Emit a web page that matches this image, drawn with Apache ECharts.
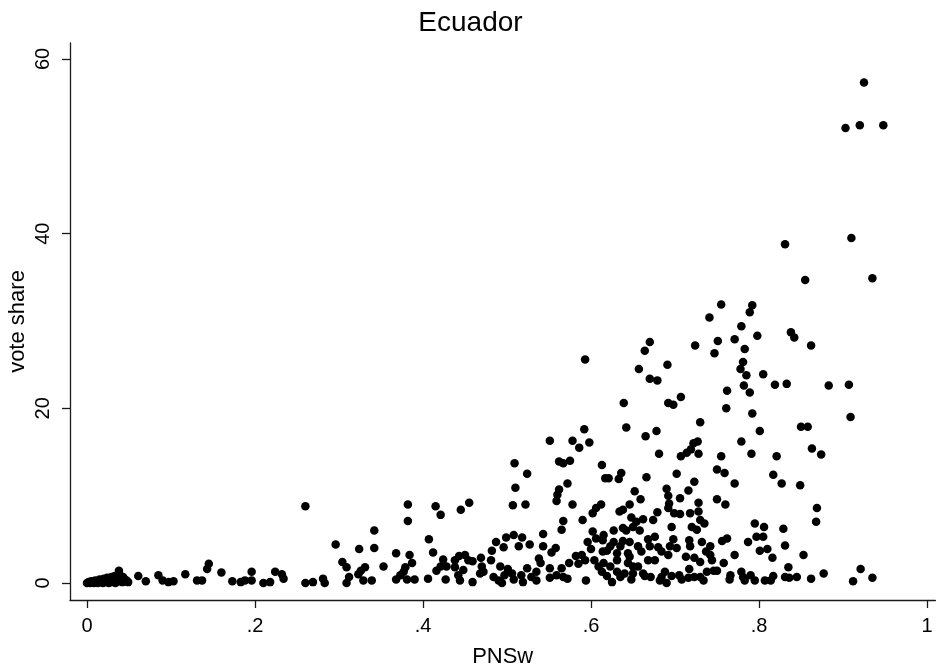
<!DOCTYPE html>
<html>
<head>
<meta charset="utf-8">
<script src="https://cdn.jsdelivr.net/npm/echarts@6/dist/echarts.min.js"></script>
<style>
html,body{margin:0;padding:0;background:#fff;}
#chart{width:941px;height:666px;}
</style>
</head>
<body>
<div id="chart"></div>
<script>
var titleText = "Ecuador";
var xName = "PNSw";
var yName = "vote share";
var xTickValues = [0, 0.2, 0.4, 0.6, 0.8, 1];
var xTickLabels = ["0", ".2", ".4", ".6", ".8", "1"];
var yTickValues = [0, 20, 40, 60];
var yTickLabels = ["0", "20", "40", "60"];

// PNSw values near zero
var clusterX = [0.000,0.002,0.004,0.005,0.007,0.008,0.010,0.011,0.013,0.014,0.015,0.017,0.018,0.019,0.020,0.021,0.022,0.024,0.025,0.026,0.027,0.028,0.029,0.030,0.031,0.032,0.033,0.034,0.035,0.036,0.037,0.038,0.039,0.040,0.041,0.042,0.043,0.044,0.045,0.047,0.049];
var clusterY = [0.0,0.1,0.0,0.2,0.1,0.0,0.3,0.1,0.0,0.2,0.4,0.1,0.3,0.0,0.5,0.2,0.1,0.6,0.3,0.0,0.4,0.2,0.7,0.1,0.5,0.3,0.8,0.0,0.4,0.6,0.2,1.4,0.9,0.3,0.5,0.1,0.7,0.2,0.4,0.3,0.1];

// low PNSw (0.05 - 0.19)
var lowX = [0.061,0.070,0.085,0.090,0.097,0.103,0.117,0.131,0.137,0.145,0.143,0.160,0.173,0.183,0.188];
var lowY = [0.8,0.2,0.9,0.3,0.1,0.2,1.0,0.3,0.3,2.2,1.6,1.2,0.2,0.1,0.3];

// PNSw 0.19 - 0.46
var midX = [0.196,0.196,0.210,0.224,0.232,0.234,0.218,0.260,0.269,0.281,0.283,0.260,0.296,0.304,0.309,0.312,0.309,0.324,0.331,0.326,0.323,0.329,0.339,0.342,0.342,0.353,0.368,0.382,0.382,0.384,0.387,0.379,0.377,0.373,0.368,0.381,0.390,0.407,0.412,0.415,0.421,0.445,0.455,0.424,0.421,0.416,0.428,0.427,0.406,0.443,0.438,0.450,0.454,0.438,0.442,0.444,0.448];
var midY = [1.3,0.3,0.0,1.3,1.0,0.5,0.1,0.0,0.1,0.5,0.0,8.8,4.4,2.4,1.8,0.7,0.0,3.9,1.8,1.4,1.0,0.3,0.3,6.0,4.0,1.9,3.4,9.0,7.1,3.2,2.3,1.8,1.3,0.9,0.4,0.4,0.4,5.0,3.5,8.8,7.8,8.4,9.2,2.7,1.9,1.4,1.9,0.4,0.5,3.1,2.6,3.2,2.6,1.8,0.9,0.3,1.5];

// PNSw 0.46 - 0.61
var groupAX = [0.593,0.592,0.551,0.578,0.598,0.586,0.509,0.524,0.562,0.567,0.575,0.572,0.510,0.562,0.560,0.559,0.578,0.507,0.522,0.606,0.602,0.590,0.567,0.565,0.543,0.602,0.508,0.499,0.487,0.518,0.496,0.514,0.527,0.543,0.558,0.553,0.596,0.600,0.606,0.482,0.469,0.459,0.481,0.470,0.472,0.492,0.501,0.484,0.490,0.494,0.506,0.508,0.517,0.519,0.524,0.535,0.538,0.540,0.551,0.551,0.559,0.565,0.567,0.572,0.574,0.582,0.585,0.589,0.593,0.594,0.604,0.609,0.459,0.468,0.497,0.529,0.535];
var groupAY = [25.6,17.6,16.3,16.3,16.1,15.5,13.7,12.5,13.9,13.7,14.0,11.4,10.9,10.7,10.1,9.4,9.0,8.9,9.0,8.6,8.0,7.2,7.1,6.1,5.6,5.9,5.5,5.2,4.7,5.2,4.1,4.2,4.4,4.2,4.0,3.5,4.7,3.9,5.1,3.7,2.9,2.5,2.6,1.9,1.3,1.9,1.6,0.7,0.3,0.0,1.1,0.4,0.9,0.1,1.7,1.3,2.8,2.3,1.7,0.6,0.9,1.7,0.7,0.5,2.3,3.1,2.2,3.2,2.6,0.3,2.6,1.9,0.1,1.1,0.9,0.7,0.3];

// PNSw 0.61 - 0.78
var groupBX = [0.755,0.741,0.670,0.751,0.771,0.664,0.724,0.747,0.691,0.657,0.670,0.679,0.762,0.707,0.639,0.692,0.698,0.761,0.730,0.642,0.665,0.678,0.727,0.722,0.719,
0.681,0.707,0.714,0.728,0.755,0.613,0.617,0.621,0.633,0.636,0.666,0.702,0.750,0.759,0.723,0.771,0.652,0.690,0.716,0.659,0.692,0.693,0.706,0.750,0.760,0.728,0.612,0.646,0.638,0.634,0.679,0.692,0.699,0.706,0.718,0.728,0.648,0.662,0.674,0.654,0.730,0.735,0.650,0.638,0.642,0.658,0.627,0.696,0.720,0.726,0.615,0.614,0.627,0.638,0.646,0.668,0.676,0.698,0.717,0.732,0.762,0.756,0.623,0.635,0.656,0.670,0.680,0.694,0.702,0.718,0.742,0.614,0.619,0.631,0.644,0.660,0.684,0.692,0.737,0.742,0.631,0.646,0.644,0.668,0.676,0.713,0.723,0.730,0.744,0.758,0.771,0.615,0.623,0.650,0.656,0.613,0.619,0.631,0.640,0.635,0.650,0.662,0.664,0.671,0.684,0.688,0.696,0.705,0.717,0.716,0.723,0.730,0.738,0.746,0.750,0.766,0.765,0.625,0.648,0.682,0.690,0.708,0.734];
var groupBY = [31.9,30.4,27.6,27.7,27.9,26.6,27.2,26.3,25.0,24.5,23.4,23.2,22.0,21.3,20.6,20.6,20.4,20.0,18.4,17.8,16.8,17.4,16.2,16.0,15.3,
14.8,14.5,14.9,14.8,14.5,13.5,12.0,12.0,11.9,12.6,12.1,12.5,13.0,12.6,11.6,11.4,10.5,10.8,10.6,9.6,10.0,9.1,9.7,9.6,9.0,9.2,9.0,9.0,8.4,8.2,8.1,8.6,8.0,7.9,8.0,8.2,7.5,7.3,7.2,7.0,7.2,6.8,6.4,6.3,6.0,6.0,6.0,6.4,6.4,6.1,5.5,4.9,4.7,4.8,4.7,5.0,5.3,5.0,4.9,4.7,5.1,4.8,4.2,4.2,4.2,4.2,4.1,4.2,4.0,4.2,4.2,3.6,3.7,3.4,3.4,3.6,3.6,3.2,3.6,3.2,2.6,3.0,2.3,2.6,2.6,3.0,2.9,2.4,2.6,2.3,3.2,2.3,1.9,1.9,1.9,1.3,0.8,1.3,1.1,0.7,1.1,1.1,0.8,0.7,0.7,1.3,0.8,0.9,1.6,0.6,0.7,0.7,1.3,1.4,1.4,0.9,0.4,0.1,0.4,0.3,0.0,0.4,0.3];

// PNSw above 0.77
var highX = [0.925,0.903,0.920,0.948,0.831,0.910,0.855,0.935,0.792,0.789,0.779,0.798,0.838,0.842,0.862,0.783,0.781,0.778,0.785,0.805,0.782,0.819,0.833,0.883,0.907,0.789,0.792,0.909,0.801,0.850,0.858,
0.779,0.791,0.821,0.863,0.874,0.817,0.827,0.849,0.869,0.868,0.795,0.806,0.829,0.797,0.805,0.787,0.831,0.801,0.810,0.816,0.853,0.835,0.921,0.779,0.781,0.790,0.783,0.795,0.807,0.814,0.817,0.831,0.836,0.845,0.862,0.877,0.912,0.935];
var highY = [57.3,52.1,52.4,52.4,38.8,39.5,34.7,34.9,31.8,31.0,29.4,28.3,28.7,28.1,27.2,26.8,25.3,24.5,23.8,23.9,22.6,22.7,22.8,22.6,22.7,21.8,19.4,19.0,17.4,17.9,17.9,
16.2,14.8,14.5,15.4,14.7,12.4,11.4,11.2,8.6,7.0,6.8,6.4,6.2,5.3,5.3,4.7,4.3,3.7,3.9,2.9,3.2,1.8,1.6,1.3,0.7,0.9,0.3,0.3,0.3,0.3,0.8,0.7,0.6,0.7,0.5,1.1,0.2,0.6];

function pairs(xs, ys) {
  var out = [];
  for (var i = 0; i < xs.length; i++) out.push([xs[i], ys[i]]);
  return out;
}
var points = [].concat(
  pairs(clusterX, clusterY),
  pairs(lowX, lowY),
  pairs(midX, midY),
  pairs(groupAX, groupAY),
  pairs(groupBX, groupBY),
  pairs(highX, highY)
);

var font = "'Liberation Sans', Arial, Helvetica, sans-serif";
var chart = echarts.init(document.getElementById('chart'));
chart.setOption({
  backgroundColor: '#ffffff',
  animation: false,
  title: {
    text: titleText,
    left: 'center',
    top: 4,
    textStyle: { fontFamily: font, fontSize: 28, fontWeight: 'normal', color: '#000' }
  },
  grid: { left: 70, right: 5.6, top: 43, bottom: 66, containLabel: false, outerBoundsMode: 'none' },
  xAxis: {
    type: 'value',
    min: -0.02024,
    max: 1.01,
    name: xName,
    nameLocation: 'middle',
    nameGap: 46,
    nameMoveOverlap: false,
    nameTextStyle: { fontFamily: font, fontSize: 22, color: '#000' },
    axisLine: { show: true, onZero: false, lineStyle: { color: '#1a1a1a', width: 1.3 } },
    axisTick: { show: true, length: 8, customValues: xTickValues, lineStyle: { color: '#1a1a1a', width: 1.3 } },
    axisLabel: {
      customValues: xTickValues,
      margin: 16,
      fontFamily: font, fontSize: 20, color: '#000',
      formatter: function (v) {
        for (var i = 0; i < xTickValues.length; i++) {
          if (Math.abs(xTickValues[i] - v) < 1e-9) return xTickLabels[i];
        }
        return '';
      }
    },
    splitLine: { show: false }
  },
  yAxis: {
    type: 'value',
    min: -1.947,
    max: 61.83,
    name: yName,
    nameLocation: 'middle',
    nameGap: 41,
    nameMoveOverlap: false,
    nameRotate: 90,
    nameTextStyle: { fontFamily: font, fontSize: 22, color: '#000' },
    axisLine: { show: true, onZero: false, lineStyle: { color: '#1a1a1a', width: 1.3 } },
    axisTick: { show: true, length: 8, customValues: yTickValues, lineStyle: { color: '#1a1a1a', width: 1.3 } },
    axisLabel: {
      customValues: yTickValues,
      rotate: 90,
      margin: 17,
      fontFamily: font, fontSize: 20, color: '#000',
      formatter: function (v) {
        for (var i = 0; i < yTickValues.length; i++) {
          if (Math.abs(yTickValues[i] - v) < 1e-9) return yTickLabels[i];
        }
        return '';
      }
    },
    splitLine: { show: false }
  },
  series: [{
    type: 'scatter',
    data: points,
    symbol: 'circle',
    symbolSize: 8.5,
    clip: false,
    itemStyle: { color: '#000', opacity: 1 }
  }]
});
</script>
</body>
</html>
